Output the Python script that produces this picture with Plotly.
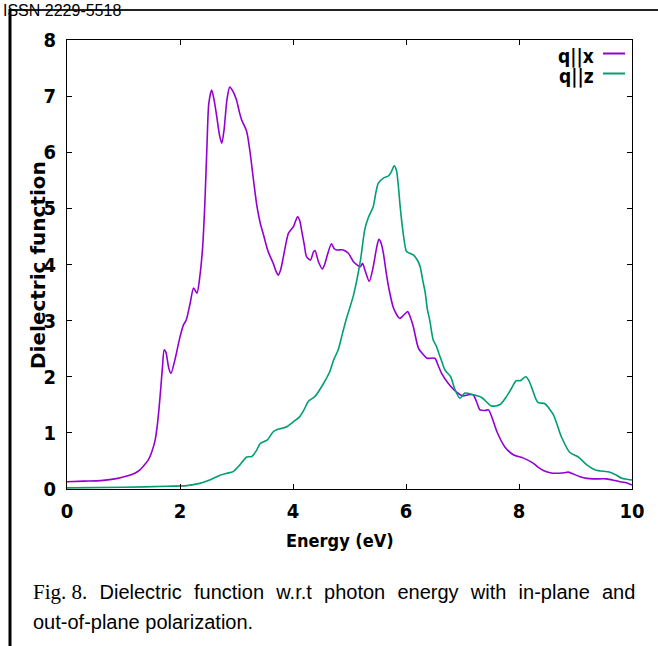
import plotly.graph_objects as go

# ---------------- data ----------------
energy_x = [0.0, 0.3, 0.6, 0.9, 1.06, 1.2, 1.29, 1.38, 1.44, 1.50, 1.56, 1.60, 1.63, 1.66, 1.69, 1.72,
            1.75, 1.80, 1.84, 1.91, 2.00, 2.06, 2.11, 2.18, 2.24, 2.30, 2.35, 2.40, 2.44, 2.48, 2.51,
            2.56, 2.60, 2.65, 2.70, 2.74, 2.78, 2.83, 2.88, 2.94, 3.00, 3.05, 3.09, 3.18, 3.24, 3.30,
            3.36, 3.42, 3.48, 3.56, 3.65, 3.70, 3.74, 3.78, 3.83, 3.88, 3.92, 4.01, 4.08, 4.12, 4.15,
            4.20, 4.24, 4.31, 4.36, 4.39, 4.45, 4.52, 4.56, 4.60, 4.68, 4.73, 4.77, 4.89, 4.98, 5.07,
            5.19, 5.23, 5.28, 5.35, 5.42, 5.48, 5.52, 5.56, 5.60, 5.65, 5.69, 5.78, 5.89, 5.96, 6.03,
            6.08, 6.13, 6.22, 6.30, 6.37, 6.51, 6.57, 6.63, 6.75, 6.89, 7.01, 7.10, 7.19, 7.25, 7.31,
            7.40, 7.46, 7.53, 7.61, 7.75, 7.90, 8.08, 8.25, 8.35, 8.43, 8.55, 8.67, 8.80, 8.87, 8.95,
            9.08, 9.20, 9.31, 9.55, 9.70, 9.79, 9.90, 10.0]
eps_x = [0.13, 0.14, 0.15, 0.19, 0.23, 0.28, 0.34, 0.44, 0.52, 0.66, 0.87, 1.15, 1.45, 1.80, 2.18, 2.48,
         2.44, 2.16, 2.06, 2.30, 2.71, 2.92, 3.01, 3.31, 3.58, 3.49, 3.78, 4.30, 5.09, 6.20, 6.87,
         7.11, 6.95, 6.64, 6.30, 6.16, 6.40, 6.93, 7.16, 7.08, 6.93, 6.72, 6.58, 6.37, 6.00, 5.51,
         5.05, 4.74, 4.52, 4.23, 4.02, 3.88, 3.81, 3.90, 4.14, 4.40, 4.56, 4.68, 4.85, 4.78, 4.62,
         4.35, 4.14, 4.08, 4.22, 4.25, 4.05, 3.92, 4.00, 4.14, 4.37, 4.28, 4.26, 4.26, 4.20, 4.05,
         3.96, 4.02, 3.88, 3.70, 3.96, 4.30, 4.45, 4.38, 4.20, 3.85, 3.61, 3.22, 3.04, 3.10, 3.16,
         3.05, 2.89, 2.51, 2.40, 2.33, 2.33, 2.20, 2.06, 1.88, 1.73, 1.66, 1.68, 1.68, 1.55, 1.41,
         1.40, 1.41, 1.25, 1.02, 0.75, 0.61, 0.55, 0.46, 0.38, 0.33, 0.29, 0.28, 0.29, 0.30, 0.27,
         0.22, 0.19, 0.18, 0.18, 0.15, 0.13, 0.11, 0.07]

energy_z = [0.0, 1.0, 1.77, 2.12, 2.35, 2.50, 2.59, 2.70, 2.83, 2.94, 3.06, 3.18, 3.27, 3.35, 3.42,
            3.54, 3.65, 3.72, 3.80, 3.89, 4.01, 4.12, 4.20, 4.27, 4.39, 4.54, 4.65, 4.72, 4.80, 4.87,
            4.95, 5.07, 5.19, 5.27, 5.33, 5.42, 5.47, 5.51, 5.60, 5.69, 5.74, 5.79, 5.83, 5.86, 5.90,
            5.95, 6.01, 6.07, 6.13, 6.20, 6.25, 6.30, 6.34, 6.38, 6.42, 6.48, 6.54, 6.57, 6.63, 6.69,
            6.79, 6.86, 6.95, 7.00, 7.04, 7.19, 7.34, 7.51, 7.66, 7.78, 7.87, 7.95, 8.02, 8.12, 8.17,
            8.22, 8.30, 8.34, 8.46, 8.53, 8.61, 8.68, 8.75, 8.90, 9.05, 9.20, 9.35, 9.61, 9.72, 9.82,
            10.0]
eps_z = [0.02, 0.03, 0.05, 0.06, 0.10, 0.15, 0.19, 0.24, 0.28, 0.31, 0.43, 0.57, 0.58, 0.68, 0.81,
         0.87, 1.02, 1.06, 1.08, 1.11, 1.20, 1.29, 1.42, 1.56, 1.65, 1.88, 2.09, 2.30, 2.48, 2.75,
         3.05, 3.45, 4.05, 4.62, 4.83, 5.03, 5.30, 5.45, 5.54, 5.58, 5.65, 5.76, 5.68, 5.45, 5.00,
         4.56, 4.23, 4.20, 4.17, 4.08, 3.96, 3.70, 3.50, 3.19, 3.01, 2.66, 2.54, 2.45, 2.28, 2.12,
         2.00, 1.79, 1.62, 1.66, 1.71, 1.68, 1.63, 1.48, 1.50, 1.65, 1.80, 1.93, 1.93, 2.00, 1.94,
         1.82, 1.60, 1.54, 1.52, 1.44, 1.32, 1.13, 0.93, 0.65, 0.57, 0.43, 0.34, 0.30, 0.25, 0.19,
         0.16]

series_names = ["q||x", "q||z"]
series_colors = ["#9400D3", "#009E73"]
x_ticks = [0, 2, 4, 6, 8, 10]
y_ticks = [0, 1, 2, 3, 4, 5, 6, 7, 8]
x_title = "Energy (eV)"
y_title = "Dielectric function"
header_text = "ISSN 2229-5518"
caption_label = "Fig. 8."
caption_line1 = "Dielectric function w.r.t photon energy with in-plane and"
caption_line2 = "out-of-plane polarization."

# ---------------- layout geometry ----------------
W, H = 658, 646
L, R, T, B = 67, 632, 40, 489


def px(x):
    return (x - L) / (R - L)


def py(y):
    return (B - y) / (B - T)


TICK_FONT = dict(family="DejaVu Sans Condensed, Liberation Sans Narrow, sans-serif",
                 size=20, color="black", weight="bold")

fig = go.Figure()
for xs, ys, name, col in [(energy_x, eps_x, series_names[0], series_colors[0]),
                          (energy_z, eps_z, series_names[1], series_colors[1])]:
    fig.add_trace(go.Scatter(x=xs, y=ys, mode="lines", name=name,
                             line=dict(color=col, width=1.6, shape="spline", smoothing=0.7),
                             showlegend=False))

axis_common = dict(showline=True, linecolor="black", linewidth=1, mirror="ticks",
                   ticks="inside", ticklen=5, tickwidth=1, tickcolor="black",
                   showgrid=False, zeroline=False, tickfont=TICK_FONT)

fig.update_layout(
    width=W, height=H,
    margin=dict(l=L, r=W - R, t=T, b=H - B, pad=0),
    paper_bgcolor="white", plot_bgcolor="white",
    xaxis=dict(range=[0, 10], tickvals=x_ticks, ticktext=[str(v) for v in x_ticks],
               ticklabelstandoff=4, **axis_common),
    yaxis=dict(range=[0, 8], tickvals=y_ticks, ticktext=[str(v) for v in y_ticks],
               ticklabelstandoff=6, **axis_common),
)

annotations = []
# axis titles
annotations.append(dict(text=x_title, xref="paper", yref="paper", x=px(340), y=py(540),
                        xanchor="center", yanchor="middle", showarrow=False,
                        font=dict(TICK_FONT, size=18)))
annotations.append(dict(text=y_title, xref="paper", yref="paper", x=px(38), y=py(265),
                        xanchor="center", yanchor="middle", showarrow=False, textangle=-90,
                        font=dict(family="DejaVu Sans, sans-serif", size=20, color="black",
                                  weight="bold")))
# legend (gnuplot style: text then sample)
for i, (name, col) in enumerate(zip(series_names, series_colors)):
    yy = 56 + i * 20
    annotations.append(dict(text=name, xref="paper", yref="paper", x=px(596), y=py(yy),
                            xanchor="right", yanchor="middle", showarrow=False,
                            font=dict(TICK_FONT, size=19)))
# header
annotations.append(dict(text=header_text, xref="paper", yref="paper", x=px(1), y=py(10.5),
                        xanchor="left", yanchor="middle", showarrow=False,
                        font=dict(family="Liberation Sans, Arial, sans-serif", size=16,
                                  color="black")))
# caption (justified first line: widened word gaps)
gap = " \u2004"
annotations.append(dict(
    text=f"<span style='font-family:Liberation Serif, Times New Roman, serif;font-size:21px'>"
         + caption_label + "</span>" + gap + caption_line1.replace(" ", gap),
    xref="paper", yref="paper", x=px(31), y=py(592), xanchor="left", yanchor="middle",
    showarrow=False, font=dict(family="Liberation Sans, Arial, sans-serif", size=20, color="black")))
annotations.append(dict(
    text=caption_line2, xref="paper", yref="paper", x=px(31), y=py(622), xanchor="left",
    yanchor="middle", showarrow=False,
    font=dict(family="Liberation Sans, Arial, sans-serif", size=20, color="black")))
fig.update_layout(annotations=annotations)

shapes = []
for i, col in enumerate(series_colors):
    yy = 53.5 + i * 20
    shapes.append(dict(type="line", xref="paper", yref="paper", x0=px(603), x1=px(625),
                       y0=py(yy), y1=py(yy), line=dict(color=col, width=2)))
# page frame lines
shapes.append(dict(type="line", xref="paper", yref="paper", x0=px(10), x1=px(660),
                   y0=py(10), y1=py(10), line=dict(color="#222", width=2)))
shapes.append(dict(type="line", xref="paper", yref="paper", x0=px(10), x1=px(10),
                   y0=py(9), y1=py(650), line=dict(color="black", width=3)))
fig.update_layout(shapes=shapes)

fig.write_html("out.html")
